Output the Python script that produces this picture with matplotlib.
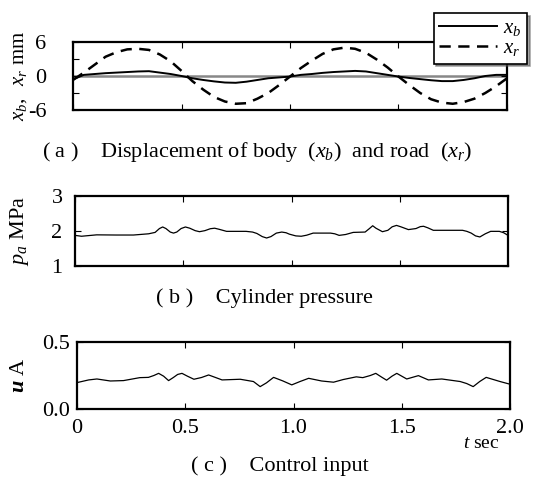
import matplotlib
matplotlib.use("Agg")
import matplotlib.pyplot as plt
from matplotlib.ticker import FixedLocator, NullFormatter

plt.rcParams['font.family'] = ['Liberation Serif', 'DejaVu Serif']
plt.rcParams['mathtext.fontset'] = 'custom'
plt.rcParams['mathtext.rm'] = 'Liberation Serif'
plt.rcParams['mathtext.it'] = 'Liberation Serif:italic'
plt.rcParams['mathtext.bf'] = 'Liberation Serif:bold'
plt.rcParams['mathtext.bfit'] = 'Liberation Serif:italic:bold'

# ---- data (a) displacement ----
t_a = [0.0, 0.05, 0.1, 0.15, 0.2, 0.25, 0.3, 0.35, 0.4, 0.45, 0.5, 0.55, 0.6, 0.65, 0.7,
       0.75, 0.8, 0.85, 0.9, 0.95, 1.0, 1.05, 1.1, 1.15, 1.2, 1.25, 1.3, 1.35, 1.4, 1.45,
       1.5, 1.55, 1.6, 1.65, 1.7, 1.75, 1.8, 1.85, 1.9, 1.95, 2.0]
x_r = [-0.7, 0.6, 2.0, 3.4, 4.2, 4.7, 4.8, 4.6, 3.8, 2.6, 0.9, -0.9, -2.4, -3.7, -4.5,
       -4.9, -4.8, -4.0, -3.0, -1.6, -0.1, 1.4, 2.7, 3.9, 4.7, 5.0, 4.8, 4.1, 2.9, 1.5,
       -0.1, -1.6, -3.0, -4.1, -4.7, -4.9, -4.6, -4.0, -3.0, -1.8, -0.4]
x_b = [-0.6, 0.2, 0.35, 0.5, 0.6, 0.7, 0.8, 0.85, 0.6, 0.35, 0.0, -0.4, -0.7, -0.95, -1.15,
       -1.2, -1.0, -0.7, -0.4, -0.25, -0.1, 0.2, 0.35, 0.55, 0.7, 0.8, 0.9, 0.8, 0.5, 0.2,
       -0.1, -0.35, -0.55, -0.75, -0.9, -0.9, -0.7, -0.4, 0.0, 0.2, 0.2]

# ---- data (b) cylinder pressure ----
t_p = [0.0, 0.03, 0.10, 0.19, 0.27, 0.34, 0.37, 0.39, 0.405, 0.42, 0.44, 0.455, 0.47, 0.49,
       0.51, 0.53, 0.555, 0.575, 0.60, 0.625, 0.645, 0.665, 0.70, 0.79, 0.82, 0.84, 0.865,
       0.885, 0.905, 0.93, 0.955, 0.975, 0.99, 1.02, 1.045, 1.07, 1.10, 1.18, 1.20, 1.22,
       1.25, 1.285, 1.34, 1.36, 1.375, 1.39, 1.42, 1.445, 1.465, 1.485, 1.505, 1.54, 1.575,
       1.595, 1.61, 1.63, 1.655, 1.79, 1.81, 1.83, 1.85, 1.87, 1.895, 1.92, 1.96, 1.98, 2.0]
p_a = [1.875, 1.85, 1.89, 1.885, 1.885, 1.92, 1.96, 2.07, 2.115, 2.07, 1.97, 1.94, 1.97, 2.07,
       2.115, 2.08, 2.01, 1.98, 2.01, 2.065, 2.08, 2.05, 1.99, 1.99, 1.97, 1.93, 1.84,
       1.80, 1.84, 1.94, 1.97, 1.95, 1.91, 1.86, 1.85, 1.88, 1.94, 1.94, 1.92, 1.875,
       1.90, 1.96, 1.97, 2.07, 2.15, 2.08, 1.98, 2.02, 2.12, 2.16, 2.12, 2.04, 2.07,
       2.125, 2.135, 2.09, 2.02, 2.02, 1.99, 1.94, 1.86, 1.83, 1.92, 1.99, 1.99, 1.95, 1.875]

# ---- data (c) control input ----
t_u = [0.0, 0.054, 0.092, 0.154, 0.215, 0.29, 0.33, 0.355, 0.377, 0.40, 0.423, 0.445, 0.465,
       0.485, 0.51, 0.54, 0.575, 0.608, 0.64, 0.67, 0.754, 0.815, 0.846, 0.875, 0.908, 0.95,
       0.992, 1.03, 1.07, 1.13, 1.185, 1.23, 1.29, 1.32, 1.355, 1.38, 1.405, 1.43, 1.455,
       1.477, 1.50, 1.523, 1.577, 1.623, 1.685, 1.77, 1.80, 1.83, 1.86, 1.89, 1.954, 2.0]
u_A = [0.197, 0.217, 0.224, 0.209, 0.212, 0.234, 0.236, 0.25, 0.266, 0.245, 0.212, 0.235, 0.258,
       0.266, 0.245, 0.222, 0.235, 0.254, 0.235, 0.217, 0.222, 0.205, 0.167, 0.195, 0.236, 0.21,
       0.18, 0.205, 0.229, 0.209, 0.20, 0.22, 0.24, 0.234, 0.25, 0.266, 0.24, 0.215, 0.245,
       0.266, 0.245, 0.224, 0.249, 0.217, 0.224, 0.205, 0.19, 0.167, 0.205, 0.236, 0.205, 0.185]

x_ticks = [0.0, 0.5, 1.0, 1.5, 2.0]
x_ticklabels = ['0', '0.5', '1.0', '1.5', '2.0']

fig = plt.figure(figsize=(5.46, 4.82), dpi=100)
W, H = 546.0, 482.0

def make_ax(l, r, top, bot):
    return fig.add_axes([l / W, 1 - bot / H, (r - l) / W, (bot - top) / H])

ax1 = make_ax(73, 507, 42, 110)
ax2 = make_ax(75, 508, 196, 266)
ax3 = make_ax(77, 510, 342, 409)

for ax in (ax1, ax2, ax3):
    for s in ax.spines.values():
        s.set_linewidth(1.6)
    ax.set_xlim(0, 2.0)
    ax.xaxis.set_major_locator(FixedLocator(x_ticks))
    ax.tick_params(direction='in', top=True, right=True, length=4, width=0.8,
                   labelsize=16)

def place_ylabel(ax, left, right, xpix):
    # xpix = right edge of the rotated label, in figure pixels
    ax.yaxis.set_label_coords((xpix - left) / (right - left), 0.5)

# (a)
ax1.axhline(0, color='#888888', lw=1.8, zorder=1)
ax1.plot(t_a, x_b, color='black', lw=1.4, label=r'$x_b$', zorder=3)
ax1.plot(t_a, x_r, color='black', lw=1.8, ls=(0, (4.5, 3)), label=r'$x_r$', zorder=3)
ax1.set_ylim(-6, 6)
ax1.set_yticks([-6, -3, 0, 3, 6])
ax1.set_yticklabels(['-6', '', '0', '', '6'])
ax1.tick_params(axis='y', pad=19)
ax1.xaxis.set_major_formatter(NullFormatter())
ax1.set_ylabel(r'$x_b,\ \ x_r$ mm', fontsize=15)
place_ylabel(ax1, 73, 507, 29)
leg = ax1.legend(loc='upper right', bbox_to_anchor=(527 / W, 1 - 13 / H),
                 bbox_transform=fig.transFigure, fontsize=15, frameon=True,
                 fancybox=False, shadow=True, handlelength=2.8, borderpad=0.25,
                 labelspacing=0.05, handletextpad=0.3, borderaxespad=0)
leg.get_frame().set_edgecolor('black')
leg.get_frame().set_linewidth(1.2)
fig.text(257 / W, 1 - 152 / H,
         r'( a )    Displacement of body  ($x_b$)  and road  ($x_r$)',
         ha='center', va='center', fontsize=16)

# (b)
ax2.plot(t_p, p_a, color='black', lw=0.9)
ax2.set_ylim(1, 3)
ax2.set_yticks([1, 2, 3])
ax2.set_yticklabels(['1', '2', '3'])
ax2.tick_params(axis='y', pad=9)
ax2.xaxis.set_major_formatter(NullFormatter())
ax2.set_ylabel(r'$p_a$ MPa', fontsize=16)
place_ylabel(ax2, 75, 508, 31)
fig.text(264 / W, 1 - 298 / H, '( b )    Cylinder pressure',
         ha='center', va='center', fontsize=16)

# (c)
ax3.plot(t_u, u_A, color='black', lw=0.9)
ax3.set_ylim(0, 0.5)
ax3.set_yticks([0.0, 0.5])
ax3.set_yticklabels(['0.0', '0.5'])
ax3.tick_params(axis='y', pad=5)
ax3.tick_params(axis='x', pad=7)
ax3.set_xticklabels(x_ticklabels)
ax3.set_ylabel(r'$\mathbfit{u}$ A', fontsize=16)
place_ylabel(ax3, 77, 510, 29)
fig.text(481 / W, 1 - 444 / H, r'$t$ sec', ha='center', va='center', fontsize=14)
fig.text(280 / W, 1 - 466 / H, '( c )    Control input',
         ha='center', va='center', fontsize=16)

fig.savefig('out.png', dpi=100)
